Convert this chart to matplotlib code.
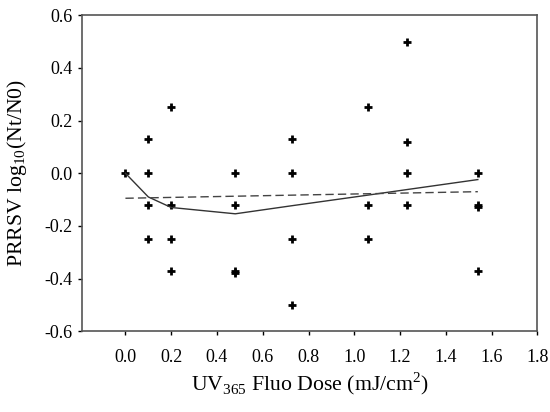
import matplotlib
matplotlib.use("Agg")
from matplotlib import pyplot as plt

plt.rcParams["font.family"] = ["Liberation Serif", "DejaVu Serif"]
plt.rcParams["mathtext.fontset"] = "custom"
plt.rcParams["mathtext.rm"] = "Liberation Serif"

# measured points
dose = [0.0,
        0.1, 0.1, 0.1, 0.1,
        0.2, 0.2, 0.2, 0.2,
        0.48, 0.48, 0.48, 0.48,
        0.73, 0.73, 0.73, 0.73,
        1.06, 1.06, 1.06,
        1.23, 1.23, 1.23, 1.23,
        1.54, 1.54, 1.54, 1.54]
log_ratio = [0.0,
             0.13, 0.0, -0.12, -0.25,
             0.25, -0.12, -0.25, -0.37,
             0.0, -0.12, -0.37, -0.38,
             0.13, 0.0, -0.25, -0.5,
             0.25, -0.12, -0.25,
             0.5, 0.12, 0.0, -0.12,
             0.0, -0.12, -0.13, -0.37]

# fitted curves
fit_x = [0.0, 0.1, 0.2, 0.48, 0.73, 1.06, 1.23, 1.54]
fit_y = [0.0, -0.09, -0.13, -0.154, -0.123, -0.083, -0.062, -0.024]
lin_x = [0.0, 1.54]
lin_y = [-0.095, -0.07]

fig, ax = plt.subplots(figsize=(5.5, 4.12), dpi=100)
fig.subplots_adjust(left=0.149, right=0.977, top=0.963, bottom=0.196)

ax.plot(dose, log_ratio, linestyle="none", marker="+", color="black",
        markersize=6, markeredgewidth=2)
ax.plot(fit_x, fit_y, color="#333333", linewidth=1)
ax.plot(lin_x, lin_y, color="#444444", linewidth=1, dashes=(6, 3))

ax.set_xlim(-0.19, 1.8)
ax.set_ylim(-0.6, 0.6)
ax.set_xticks([0.0, 0.2, 0.4, 0.6, 0.8, 1.0, 1.2, 1.4, 1.6, 1.8])
ax.set_yticks([-0.6, -0.4, -0.2, 0.0, 0.2, 0.4, 0.6])
ax.xaxis.set_major_formatter(matplotlib.ticker.FormatStrFormatter("%.1f"))
ax.yaxis.set_major_formatter(matplotlib.ticker.FormatStrFormatter("%.1f"))
ax.tick_params(direction="out", length=3, width=1, labelsize=13, pad=4)
ax.tick_params(axis="x", pad=10)
for s in ax.spines.values():
    s.set_color("#555555")
    s.set_linewidth(1.2)

ax.set_xlabel("UV$_{365}$ Fluo Dose (mJ/cm$^2$)", fontsize=15.7, labelpad=3)
ax.set_ylabel("PRRSV log$_{10}$(Nt/N0)", fontsize=15.7, labelpad=11)

fig.savefig("out.png", dpi=100)
